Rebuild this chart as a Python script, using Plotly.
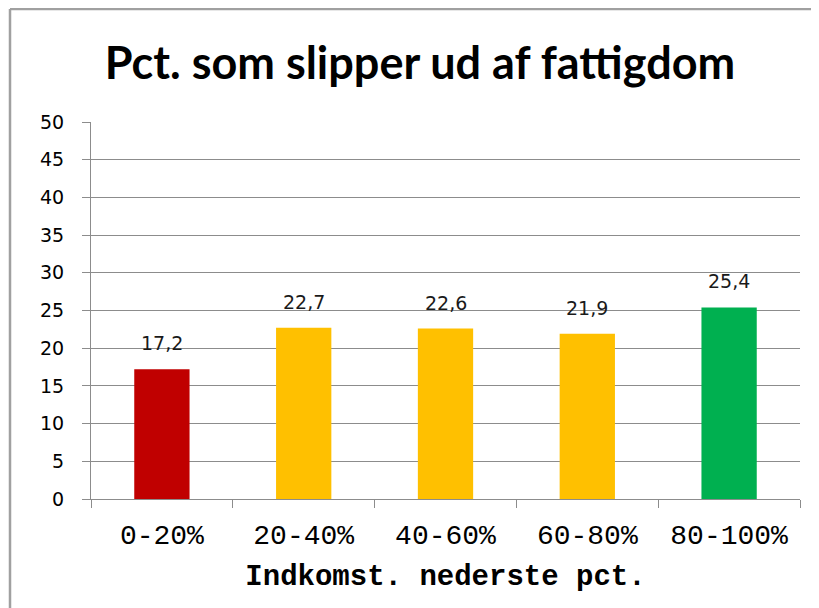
import plotly.graph_objects as go

categories = ["0-20%", "20-40%", "40-60%", "60-80%", "80-100%"]
values = [17.2, 22.7, 22.6, 21.9, 25.4]
colors = ["#C00000", "#FFC000", "#FFC000", "#FFC000", "#00B050"]
y_ticks = [0, 5, 10, 15, 20, 25, 30, 35, 40, 45, 50]

W, H = 819, 608
L, R, T, B = 83, 27, 114, 117
pw, ph = W - L - R, H - T - B

fig = go.Figure()
fig.add_trace(go.Bar(
    x=categories, y=values, marker=dict(color=colors, line=dict(width=0)),
    width=0.39, hoverinfo="skip",
))

for c, v in zip(categories, values):
    fig.add_annotation(
        x=c, y=v, text=f"{v:.1f}".replace(".", ","), showarrow=False,
        yanchor="bottom", yshift=13,
        font=dict(family="DejaVu Sans", size=19, color="#1a1a1a"),
    )

# outer chart frame (top and left edges)
fx0, fy0 = 2, 1
fig.add_shape(type="line", xref="paper", yref="paper",
              x0=(fx0 - L) / pw, x1=(W + 5 - L) / pw,
              y0=(H - B - fy0) / ph, y1=(H - B - fy0) / ph,
              line=dict(color="#A0A0A0", width=2.5))
fig.add_shape(type="line", xref="paper", yref="paper",
              x0=(fx0 - L) / pw, x1=(fx0 - L) / pw,
              y0=(H - B - fy0) / ph, y1=(H - B - H - 5) / ph,
              line=dict(color="#A0A0A0", width=2.5))

fig.update_layout(
    width=W, height=H,
    margin=dict(l=L, r=R, t=T, b=B),
    paper_bgcolor="white", plot_bgcolor="white",
    showlegend=False,
    title=dict(text="<b>Pct. som slipper ud af fattigdom</b>",
               x=412 / W, xanchor="center", y=1 - 55 / H, yanchor="middle",
               font=dict(family="Lato", size=45, color="black")),
    xaxis=dict(
        type="category", showgrid=False, showline=True, linecolor="#8c8c8c", linewidth=1,
        ticks="outside", ticklen=8, tickcolor="#8c8c8c", tickson="boundaries",
        ticklabelstandoff=10,
        tickfont=dict(family="Liberation Mono", size=28, color="black"),
        title=dict(text="<b>Indkomst. nederste pct.</b>", standoff=14,
                   font=dict(family="Liberation Mono", size=29, color="black")),
    ),
    yaxis=dict(
        range=[0, 50], tickvals=y_ticks, showgrid=True, gridcolor="#8c8c8c", gridwidth=1,
        showline=True, linecolor="#8c8c8c", linewidth=1,
        ticks="outside", ticklen=8, tickcolor="#8c8c8c",
        ticklabelstandoff=14,
        tickfont=dict(family="DejaVu Sans", size=19, color="black"),
        zeroline=False,
    ),
)

fig.write_html("out.html")
